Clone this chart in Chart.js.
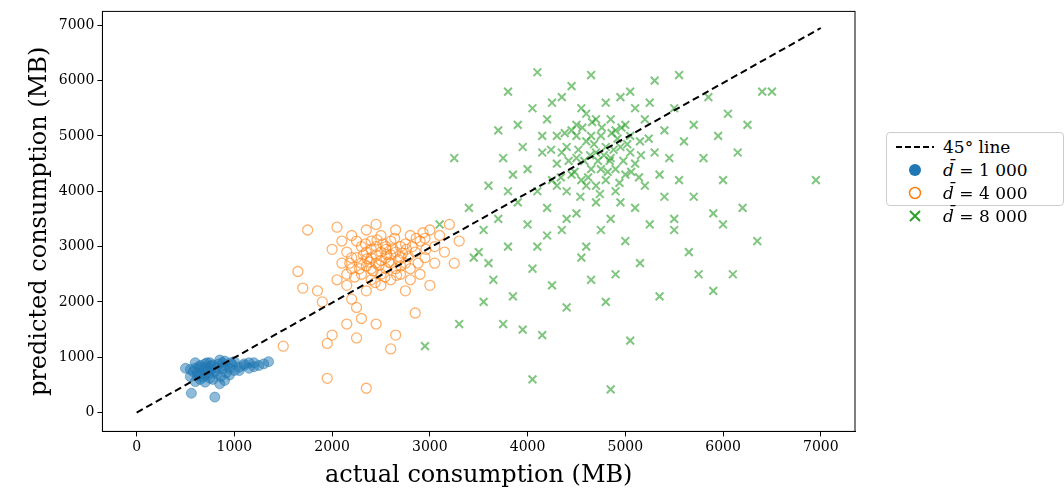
<!DOCTYPE html>
<html><head><meta charset="utf-8">
<script src="https://cdn.jsdelivr.net/npm/chart.js@4"></script>
<style>
body{margin:0;background:#fff;font-family:"DejaVu Serif",serif}
#wrap{position:relative;width:1064px;height:500px}
#legend{position:absolute;left:886px;top:132px;width:178px;height:74px;border:1px solid #ccc;border-radius:4px;background:#fff;font-size:17px;padding:2px 0 0 6px;box-sizing:border-box}
.row{height:23px;display:flex;align-items:center}
.sym{width:44px;display:flex;justify-content:center;align-items:center;margin-right:6px}
</style></head><body>
<div id="wrap"><canvas id="c" width="1064" height="500"></canvas>
<div id="legend">
<div class="row"><span class="sym"><svg width="38" height="4"><line x1="0" y1="2" x2="38" y2="2" stroke="#000" stroke-width="2" stroke-dasharray="6,3"/></svg></span>45° line</div>
<div class="row"><span class="sym"><svg width="14" height="14"><circle cx="7" cy="7" r="6" fill="#1f77b4"/></svg></span><i>d̄</i>&nbsp;= 1 000</div>
<div class="row"><span class="sym"><svg width="14" height="14"><circle cx="7" cy="7" r="5.5" fill="none" stroke="#ff7f0e" stroke-width="1.5"/></svg></span><i>d̄</i>&nbsp;= 4 000</div>
<div class="row"><span class="sym"><svg width="14" height="14"><path d="M2 2L12 12M12 2L2 12" stroke="#2ca02c" stroke-width="2"/></svg></span><i>d̄</i>&nbsp;= 8 000</div>
</div></div>
<script>
const xTicks=[0,1000,2000,3000,4000,5000,6000,7000];
const yTicks=[0,1000,2000,3000,4000,5000,6000,7000];
const lineX=[0,7000], lineY=[0,6950];
const blue=[[550,780],[600,800],[620,720],[650,850],[680,760],[700,820],[720,900],[740,700],[760,780],[780,860],[800,740],[820,810],[840,880],[860,650],[880,790],[900,840],[920,720],[950,800],[980,870],[1000,760],[1050,820],[1100,880],[1150,800],[1200,900],[1250,850],[1300,880],[1350,920],[560,350],[600,560],[650,600],[700,550],[750,620],[800,280],[850,520],[900,580],[650,700],[700,680],[750,900],[600,900],[900,930],[1000,920],[1100,850],[1200,830],[550,650],[500,800],[850,950],[950,680],[780,600],[680,640],[720,760],[640,820],[700,880],[760,840],[820,700],[880,900],[960,900],[1050,760],[620,660],[580,740],[1150,900]];
const orange=[[1650,2550],[1700,2250],[1750,3300],[1850,2200],[1900,2000],[1950,1250],[1950,620],[2000,2950],[2000,1400],[2050,2400],[2100,2700],[2100,3100],[2150,2300],[2150,2900],[2200,2600],[2200,3200],[2200,2050],[2250,1900],[2250,2800],[2250,1350],[2300,2500],[2300,3000],[2300,2700],[2350,2200],[2350,3300],[2350,440],[2350,2900],[2400,2600],[2400,2800],[2400,3100],[2400,2400],[2450,3000],[2450,2700],[2450,1600],[2450,3400],[2500,2500],[2500,2900],[2500,2300],[2500,3200],[2550,2800],[2550,2600],[2550,3000],[2600,2700],[2600,2400],[2600,3100],[2600,1150],[2650,2900],[2650,3300],[2650,1400],[2700,2500],[2700,2800],[2700,3000],[2750,2200],[2750,2700],[2800,3200],[2800,2600],[2850,2900],[2850,1800],[2900,3100],[2900,2500],[2950,2800],[3000,3300],[3000,2300],[3050,3000],[3100,3200],[3200,3400],[3250,2700],[2150,2500],[2250,3100],[2350,2650],[2450,2850],[2550,2950],[2650,2600],[2750,3050],[2050,3350],[2300,1700],[2500,2750],[2400,2950],[2600,2850],[2700,2650],[2200,2800],[2800,2400],[2150,1600],[2950,3150],[1500,1200],[3300,3100],[2320,2850],[2380,2720],[2420,2560],[2480,2660],[2520,3050],[2580,2720],[2620,2960],[2680,2760],[2720,2880],[2780,2820],[2820,3000],[2880,2700],[2280,2600],[2340,3050],[2440,2350],[2540,2450],[2640,3150],[2360,2780],[2460,3120],[2560,2860],[2660,2480],[2760,2950],[2860,3150],[2960,2950],[2180,2700],[2230,2450],[2930,3250],[3050,2700],[3150,2900]];
const green=[[3250,4600],[3300,1600],[3400,3700],[3450,2800],[3550,2000],[3550,3300],[3600,4100],[3650,2400],[3700,5100],[3700,3500],[3750,4600],[3750,1600],[3800,5800],[3800,3000],[3850,4300],[3850,2100],[3900,5200],[3900,3800],[3950,1500],[3950,4800],[4000,4400],[4000,3400],[4050,5500],[4050,600],[4050,2600],[4100,4000],[4100,6150],[4100,3000],[4150,4700],[4150,1400],[4200,5300],[4200,3700],[4250,4200],[4250,2300],[4300,5000],[4300,4500],[4350,5700],[4350,3300],[4400,4800],[4400,4000],[4400,1900],[4450,5900],[4450,4300],[4500,5200],[4500,3600],[4500,4600],[4550,2800],[4550,5500],[4600,4100],[4600,4900],[4600,3000],[4650,6100],[4650,4400],[4650,2400],[4700,5300],[4700,3800],[4700,4700],[4750,5000],[4750,3300],[4800,4200],[4800,5600],[4800,2000],[4850,4600],[4850,420],[4850,3500],[4900,5100],[4900,4000],[4900,2500],[4950,4800],[4950,5700],[5000,4300],[5000,3100],[5050,5000],[5050,5800],[5050,1300],[5100,4500],[5100,3700],[5150,4900],[5150,2700],[5200,5300],[5200,4100],[5250,5600],[5250,3400],[5300,4700],[5300,6000],[5350,4300],[5350,2100],[5400,5100],[5400,3900],[5450,4600],[5500,5500],[5500,3300],[5550,6100],[5550,4200],[5600,4900],[5650,2900],[5700,5200],[5700,3900],[5750,2500],[5800,4600],[5850,5700],[5900,3600],[5950,5000],[6000,4200],[6050,5400],[6100,2500],[6150,4700],[6200,3700],[6250,5200],[6350,3100],[6400,5800],[6500,5800],[6950,4200],[4450,5100],[4550,4200],[4650,5000],[4750,4400],[4850,5300],[4950,3800],[5050,4700],[4350,4700],[4250,5600],[4150,5000],[4700,4100],[4600,5400],[4500,5000],[4800,4800],[4900,4400],[5000,5200],[5100,5500],[4400,3500],[4300,4100],[4200,3200],[3800,4000],[3600,2700],[3500,2900],[2950,1200],[3100,3400],[5900,2200],[6000,3400],[5500,3500],[4520,4750],[4580,4550],[4620,4250],[4680,4850],[4720,4550],[4780,4650],[4820,4350],[4880,4750],[4920,4950],[4980,4550],[5020,4850],[4420,4550],[4480,4350],[4380,5050],[4560,5150],[4660,5250],[4760,5150],[4860,5050],[4960,5150],[5060,4350],[5160,4650],[5240,4950],[4340,4250],[4240,4750],[4540,3900],[4740,3950],[4940,4150],[5140,4250],[4640,4650],[4840,4550]];
const pts=a=>a.map(p=>({x:p[0],y:p[1]}));
const font={family:"DejaVu Serif",size:14};
new Chart(document.getElementById('c'),{
 data:{datasets:[
  {type:'line',data:lineX.map((x,i)=>({x,y:lineY[i]})),borderColor:'#000',borderDash:[7,4],borderWidth:2,pointRadius:0,order:0},
  {type:'scatter',data:pts(blue),backgroundColor:'rgba(31,119,180,0.5)',borderColor:'rgba(31,119,180,0.5)',pointRadius:5,order:3},
  {type:'scatter',data:pts(orange),backgroundColor:'rgba(0,0,0,0)',borderColor:'rgba(255,127,14,0.6)',borderWidth:1.3,pointRadius:5,order:2},
  {type:'scatter',data:pts(green),pointStyle:'crossRot',borderColor:'rgba(44,160,44,0.6)',borderWidth:2,pointRadius:5.5,order:1}
 ]},
 options:{responsive:false,animation:false,layout:{padding:{top:5,right:209,left:25,bottom:10}},
  plugins:{legend:{display:false},tooltip:{enabled:false}},
  scales:{
   x:{type:'linear',min:-350,max:7350,afterBuildTicks:a=>{a.ticks=xTicks.map(v=>({value:v}))},
      ticks:{font,color:'#000',autoSkip:false,callback:v=>String(v)},grid:{drawOnChartArea:false,color:'#000',tickLength:5},border:{color:'#000'},
      title:{display:true,text:'actual consumption (MB)',font:{family:"DejaVu Serif",size:24},color:'#000',padding:{top:2,bottom:0}}},
   y:{type:'linear',min:-340,max:7250,afterBuildTicks:a=>{a.ticks=yTicks.map(v=>({value:v}))},
      ticks:{font,color:'#000',autoSkip:false,callback:v=>String(v)},grid:{drawOnChartArea:false,color:'#000',tickLength:5},border:{color:'#000'},
      title:{display:true,text:'predicted consumption (MB)',font:{family:"DejaVu Serif",size:24},color:'#000',padding:{bottom:2,top:0}}}
  }},
 plugins:[{id:'box',afterDraw(c){const a=c.chartArea,x=c.ctx;x.save();x.strokeStyle='#000';x.lineWidth=1;x.strokeRect(a.left,a.top,a.right-a.left,a.bottom-a.top);x.restore();}}]
});
</script></body></html>
